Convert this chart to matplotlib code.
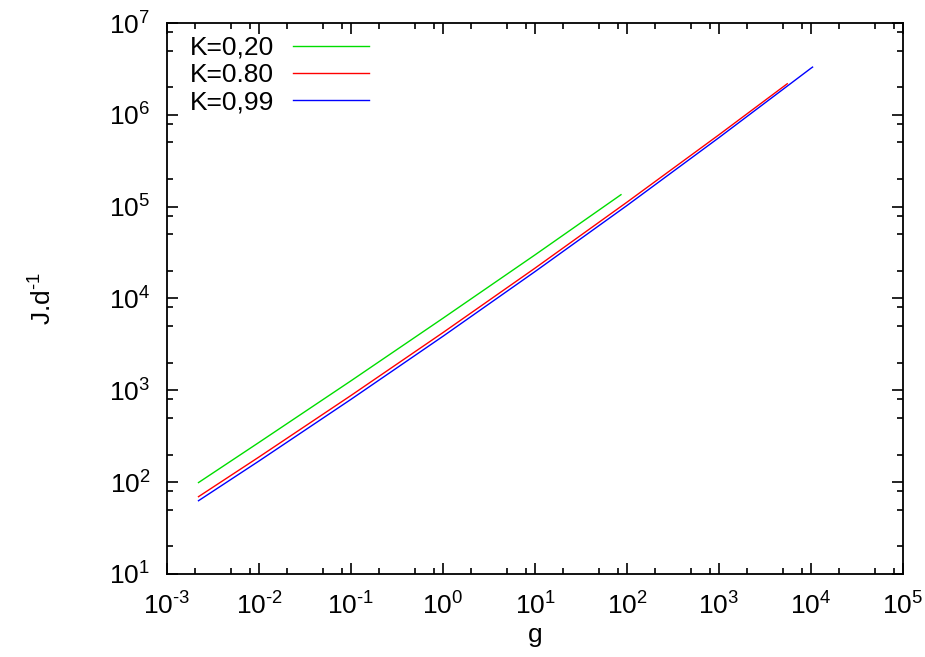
import numpy as np
import matplotlib
matplotlib.use('Agg')
import matplotlib.pyplot as plt
from matplotlib.ticker import LogLocator, NullFormatter, FuncFormatter

# 数据
g_020 = [0.0022, 0.01, 0.1, 1, 10, 86]
j_020 = [99, 271, 1270, 6100, 29850, 1.35e5]

g_080 = [0.0022, 0.01, 0.1, 1, 10, 100, 1000, 5520]
j_080 = [69.5, 188, 879, 4256, 21400, 1.12e5, 6.07e5, 2.18e6]

g_099 = [0.0022, 0.01, 0.1, 1, 10, 100, 1000, 10000, 10400]
j_099 = [62.8, 170, 798, 3880, 19630, 1.03e5, 5.65e5, 3.22e6, 3.31e6]

labels = ['K=0,20', 'K=0.80', 'K=0,99']

plt.rcParams['font.family'] = ['Liberation Sans', 'DejaVu Sans']
plt.rcParams['mathtext.fontset'] = 'custom'
plt.rcParams['mathtext.rm'] = 'Liberation Sans'
plt.rcParams['mathtext.it'] = 'Liberation Sans'
plt.rcParams['mathtext.default'] = 'regular'

FS = 19


def pow10(v, pos):
    e = int(round(np.log10(v)))
    if e < 0:
        return r'$10^{\text{-}%d}$' % (-e)
    return r'$10^{%d}$' % e


fig = plt.figure(figsize=(9.25, 6.57), dpi=100)
ax = fig.add_axes([167/925, 1-574/657, (903-167)/925, (574-23)/657])

ax.plot(g_020, j_020, color='#00dd00', lw=1, label=labels[0])
ax.plot(g_080, j_080, color='#ff0000', lw=1, label=labels[1])
ax.plot(g_099, j_099, color='#0000ff', lw=1, label=labels[2])

ax.set_xscale('log')
ax.set_yscale('log')
ax.set_xlim(1e-3, 1e5)
ax.set_ylim(1e1, 1e7)

for axis in (ax.xaxis, ax.yaxis):
    axis.set_major_locator(LogLocator(base=10, numticks=20))
    axis.set_major_formatter(FuncFormatter(pow10))
    axis.set_minor_locator(LogLocator(base=10, subs=[2, 5, 8], numticks=20))
    axis.set_minor_formatter(NullFormatter())

ax.tick_params(which='both', direction='in', top=True, right=True, width=1.2)
ax.tick_params(which='major', length=8, labelsize=FS)
ax.tick_params(axis='x', which='major', pad=13)
ax.tick_params(axis='y', which='major', pad=12)
ax.tick_params(which='minor', length=4.5)
for s in ax.spines.values():
    s.set_linewidth(1.3)

ax.set_xlabel('g', fontsize=FS, labelpad=3)
ax.set_ylabel(r'J.d$^{\text{-}1}$', fontsize=FS, labelpad=38)

ax.legend(loc='upper left', bbox_to_anchor=(190/925, 1-36/657),
          bbox_transform=fig.transFigure, frameon=False, fontsize=FS,
          markerfirst=False, handlelength=2.9, handletextpad=0.7,
          labelspacing=0.12, borderpad=0, borderaxespad=0)

fig.savefig('out.png', dpi=100)
